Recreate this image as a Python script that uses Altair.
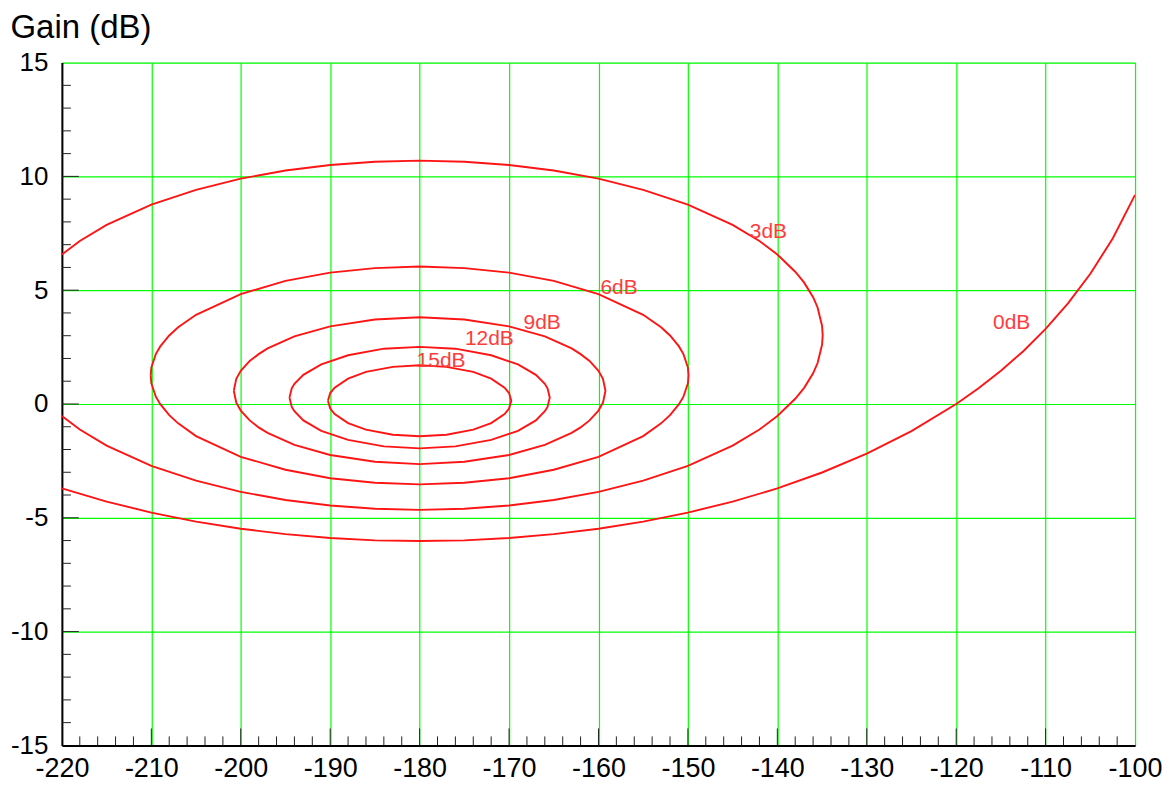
import altair as alt
import pandas as pd

# ---------------- data ----------------
x_major = [-220, -210, -200, -190, -180, -170, -160, -150, -140, -130, -120, -110, -100]
y_major = [-15, -10, -5, 0, 5, 10, 15]
x_minor = [v for v in range(-218, -100, 2) if v % 10 != 0]
y_minor = [v for v in range(-14, 15) if v % 5 != 0]

# 0 dB contour
m0_phase = [-220, -215, -210, -205, -200, -195, -190, -185, -180, -175, -170, -165, -160,
            -155, -150, -145, -140, -135, -130, -125, -120, -117.5, -115, -112.5, -110,
            -107.5, -105, -102.5, -100]
m0_gain = [-3.71, -4.29, -4.77, -5.17, -5.48, -5.72, -5.89, -5.99, -6.02, -5.99, -5.89, -5.72,
           -5.48, -5.17, -4.77, -4.29, -3.71, -3.01, -2.18, -1.19, 0.00, 0.69, 1.46, 2.32,
           3.30, 4.42, 5.72, 7.27, 9.19]

# 3 dB contour (top branch left->right, bottom branch right->left)
m3_phase = [-220, -218, -215, -210, -205, -200, -195, -190, -185, -180, -175, -170, -165,
            -160, -155, -150, -145, -142, -140, -138, -137, -136, -135.5, -135, -134.93,
            -135, -135.5, -136, -137, -138, -140, -142, -145, -150, -155, -160, -165, -170,
            -175, -180, -185, -190, -195, -200, -205, -210, -215, -218, -220]
m3_gain = [6.57, 7.16, 7.87, 8.76, 9.41, 9.90, 10.26, 10.50, 10.64, 10.69, 10.64, 10.50, 10.26,
           9.90, 9.41, 8.76, 7.87, 7.16, 6.57, 5.81, 5.33, 4.69, 4.24, 3.44, 3.02,
           2.60, 1.80, 1.35, 0.71, 0.23, -0.53, -1.12, -1.83, -2.72, -3.37, -3.86, -4.22, -4.46,
           -4.60, -4.65, -4.60, -4.46, -4.22, -3.86, -3.37, -2.72, -1.83, -1.12, -0.53]

# 6 dB contour (closed)
m6_phase = [-210.07, -210, -209.5, -209, -208, -207, -205, -200, -195, -190, -185, -180, -175,
            -170, -165, -160, -155, -153, -152, -151, -150.5, -150, -149.93,
            -150, -150.5, -151, -152, -153, -155, -160, -165, -170, -175, -180, -185, -190,
            -195, -200, -205, -207, -208, -209, -209.5, -210, -210.07]
m6_gain = [1.26, 1.60, 2.19, 2.53, 3.01, 3.37, 3.92, 4.83, 5.41, 5.77, 5.97, 6.04, 5.97,
           5.77, 5.41, 4.83, 3.92, 3.37, 3.01, 2.53, 2.19, 1.60, 1.26,
           0.91, 0.32, -0.01, -0.49, -0.85, -1.41, -2.32, -2.89, -3.26, -3.46, -3.53, -3.46, -3.26,
           -2.89, -2.32, -1.41, -0.85, -0.49, -0.01, 0.32, 0.91, 1.26]

# 9 dB contour (closed)
m9_phase = [-200.78, -200.5, -200, -199, -198, -197, -194, -190, -185, -180, -175, -170, -166,
            -163, -162, -161, -160, -159.5, -159.22,
            -159.5, -160, -161, -162, -163, -166, -170, -175, -180, -185, -190, -194, -197,
            -198, -199, -200, -200.5, -200.78]
m9_gain = [0.58, 1.11, 1.46, 1.89, 2.19, 2.44, 2.97, 3.41, 3.71, 3.81, 3.71, 3.41, 2.97,
           2.44, 2.19, 1.89, 1.46, 1.11, 0.58,
           0.06, -0.29, -0.72, -1.03, -1.27, -1.80, -2.24, -2.54, -2.64, -2.54, -2.24, -1.80, -1.27,
           -1.03, -0.72, -0.29, 0.06, 0.58]

# 12 dB contour (closed)
m12_phase = [-194.55, -194.3, -194, -193, -191, -188, -184, -180, -176, -172, -169, -167, -166,
             -165.7, -165.45,
             -165.7, -166, -167, -169, -172, -176, -180, -184, -188, -191, -193, -194, -194.3,
             -194.55]
m12_gain = [0.28, 0.69, 0.89, 1.28, 1.74, 2.14, 2.43, 2.51, 2.43, 2.14, 1.74, 1.28, 0.89,
            0.69, 0.28,
            -0.13, -0.32, -0.72, -1.18, -1.58, -1.86, -1.95, -1.86, -1.58, -1.18, -0.72, -0.32, -0.13,
            0.28]

# 15 dB contour (closed)
m15_phase = [-190.25, -190, -189.5, -188, -186, -183, -180, -177, -174, -172, -170.5, -170,
             -169.75,
             -170, -170.5, -172, -174, -177, -180, -183, -186, -188, -189.5, -190, -190.25]
m15_gain = [0.14, 0.48, 0.72, 1.11, 1.41, 1.63, 1.70, 1.63, 1.41, 1.11, 0.72, 0.48,
            0.14,
            -0.20, -0.44, -0.84, -1.13, -1.35, -1.42, -1.35, -1.13, -0.84, -0.44, -0.20, 0.14]

label_text = ["0dB", "3dB", "6dB", "9dB", "12dB", "15dB"]
label_phase = [-113.8, -141.0, -157.7, -166.3, -172.2, -177.6]
label_gain = [3.55, 7.54, 5.09, 3.55, 2.85, 1.89]

# ---------------- build tables ----------------
contours = [("0dB", m0_phase, m0_gain), ("3dB", m3_phase, m3_gain), ("6dB", m6_phase, m6_gain),
            ("9dB", m9_phase, m9_gain), ("12dB", m12_phase, m12_gain), ("15dB", m15_phase, m15_gain)]
rows = []
for name, ph, gn in contours:
    for i, (p, g) in enumerate(zip(ph, gn)):
        rows.append({"contour": name, "seq": i, "phase": p, "gain": g})
df = pd.DataFrame(rows)
labels_df = pd.DataFrame({"text": label_text, "phase": label_phase, "gain": label_gain})
xmaj_df = pd.DataFrame({"phase": x_major[1:-1]})
xmin_df = pd.DataFrame({"phase": x_minor})
ymaj_df = pd.DataFrame({"gain": y_major[1:-1]})
ymin_df = pd.DataFrame({"gain": y_minor})

W, H = 1075, 684
FONT = "Liberation Sans"
LABEL_EXPR = "datum.value < 0 ? '-' + format(-datum.value, 'd') : format(datum.value, 'd')"

xs = alt.Scale(domain=[-220, -100], nice=False, zero=False)
ys = alt.Scale(domain=[-15, 15], nice=False, zero=False)

x_axis = alt.Axis(values=x_major, grid=True, gridColor="#00ff00", gridWidth=1.2,
                  domainColor="#000000", domainWidth=2, ticks=False, tickSize=0,
                  labelFont=FONT, labelFontSize=27, labelColor="#000000", labelPadding=10,
                  labelFlush=False, labelOverlap=False, labelExpr=LABEL_EXPR, title=None)
y_axis = alt.Axis(values=y_major, grid=True, gridColor="#00ff00", gridWidth=1.2,
                  domainColor="#000000", domainWidth=2, ticks=False, tickSize=0,
                  labelFont=FONT, labelFontSize=26, labelColor="#000000", labelPadding=14,
                  labelFlush=False, labelOverlap=False, labelExpr=LABEL_EXPR,
                  title="Gain (dB)", titleAngle=0, titleAlign="left", titleBaseline="alphabetic",
                  titleX=-52, titleY=-25, titleFont=FONT, titleFontSize=33,
                  titleFontWeight="normal", titleColor="#000000")

lines = alt.Chart(df).mark_line(color="#ff1414", strokeWidth=1.9, clip=True).encode(
    x=alt.X("phase:Q", scale=xs, axis=x_axis),
    y=alt.Y("gain:Q", scale=ys, axis=y_axis),
    detail="contour:N",
    order="seq:Q",
)

texts = alt.Chart(labels_df).mark_text(font=FONT, fontSize=21, color="#ff3c3c",
                                       align="center", baseline="middle").encode(
    x=alt.X("phase:Q", scale=xs), y=alt.Y("gain:Q", scale=ys), text="text:N")

tick_color = "#222222"
xmaj = alt.Chart(xmaj_df).mark_rule(color=tick_color, strokeWidth=1).encode(
    x=alt.X("phase:Q", scale=xs), y=alt.value(H), y2=alt.value(H - 17))
xmin = alt.Chart(xmin_df).mark_rule(color=tick_color, strokeWidth=1).encode(
    x=alt.X("phase:Q", scale=xs), y=alt.value(H), y2=alt.value(H - 9))
ymaj = alt.Chart(ymaj_df).mark_rule(color=tick_color, strokeWidth=1).encode(
    y=alt.Y("gain:Q", scale=ys), x=alt.value(0), x2=alt.value(17))
ymin = alt.Chart(ymin_df).mark_rule(color=tick_color, strokeWidth=1).encode(
    y=alt.Y("gain:Q", scale=ys), x=alt.value(0), x2=alt.value(9))

chart = alt.layer(lines, xmaj, xmin, ymaj, ymin, texts).properties(
    width=W, height=H,
    padding={"left": 54, "top": 54, "right": 30, "bottom": 40},
    autosize=alt.AutoSizeParams(type="none"),
).configure_view(stroke="#444444", strokeWidth=2).configure(background="white")

chart.save("out.html", embed_options={"renderer": "svg", "actions": False})
